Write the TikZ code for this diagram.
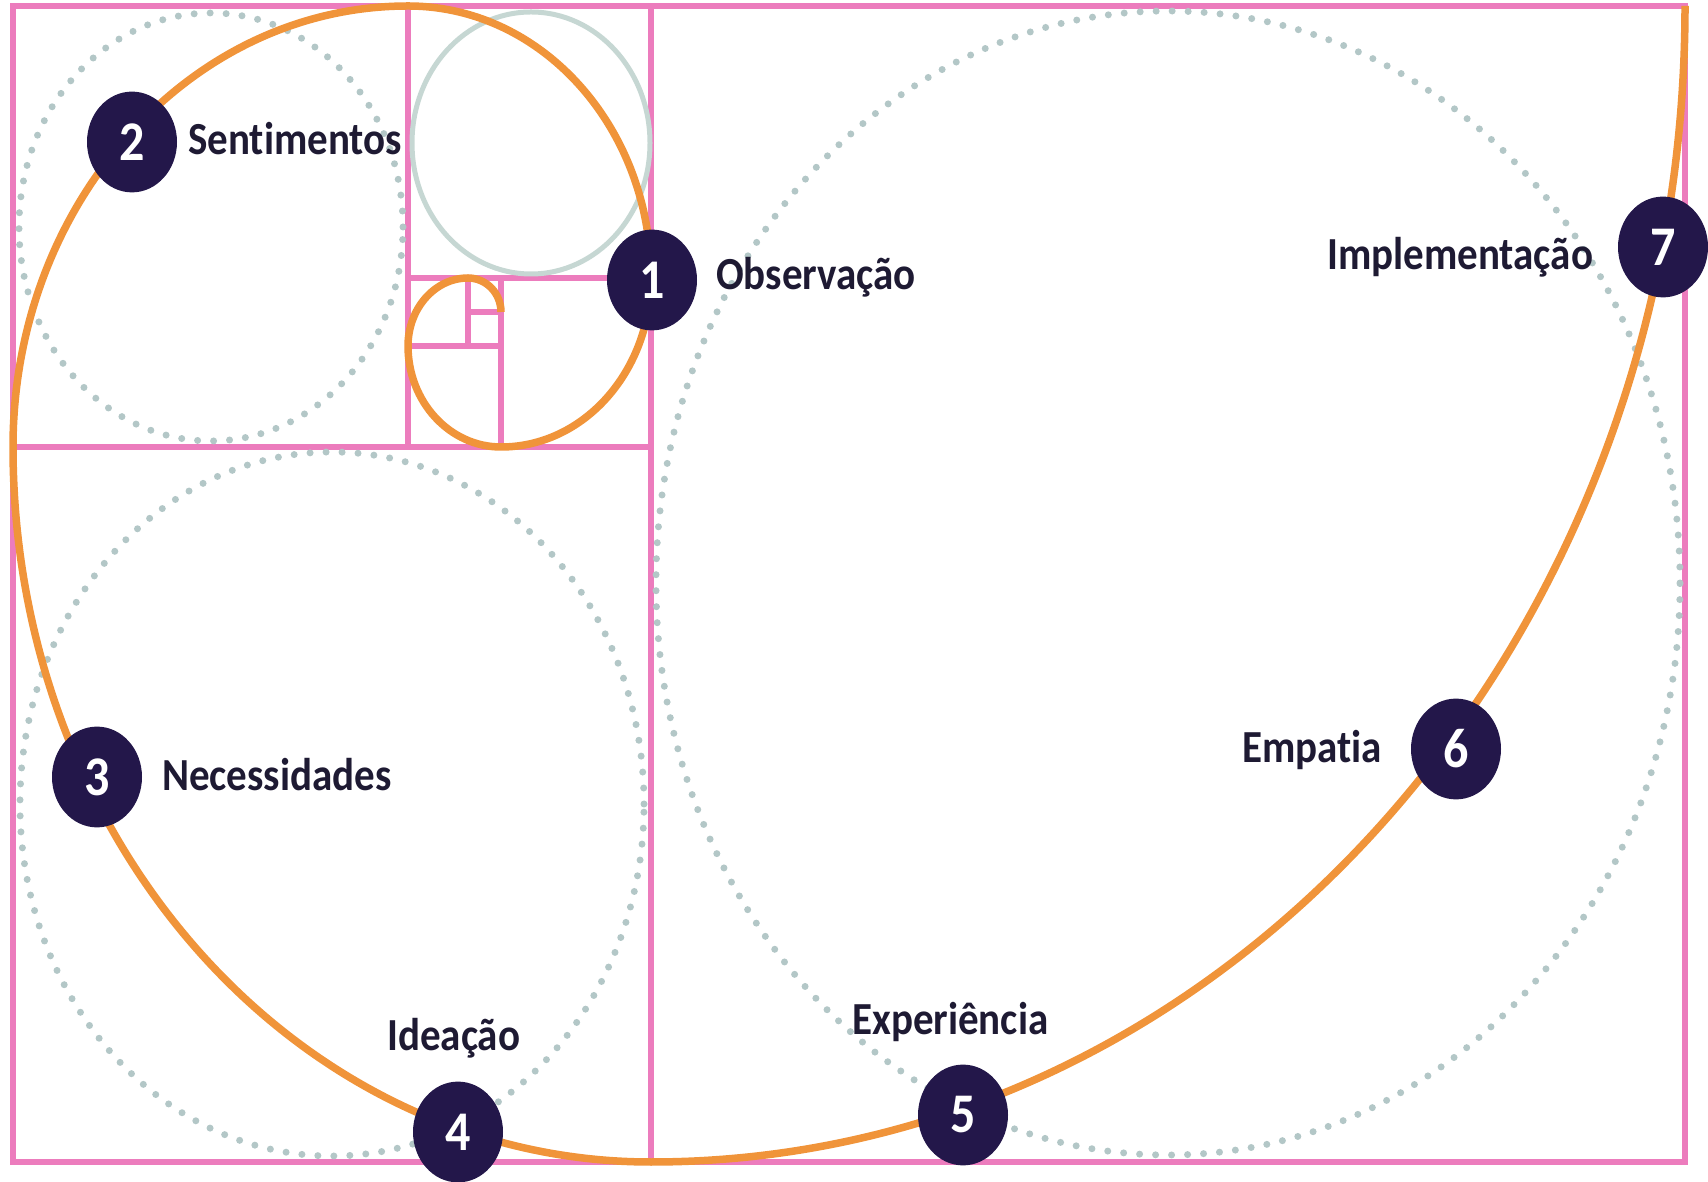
\documentclass[tikz,border=0pt]{standalone}
\usepackage{fontspec}
\setmainfont[RawFeature={-liga;-clig;-dlig;-calt;-hlig}]{Carlito}
\usepackage{tikz}
\usetikzlibrary{calc}
\definecolor{fibpink}{HTML}{EC7CBD}
\definecolor{fiborange}{HTML}{F0943A}
\definecolor{fibdots}{HTML}{B3C7C7}
\definecolor{fibring}{HTML}{C6D7D3}
\definecolor{stagenavy}{HTML}{23174A}
\definecolor{labelnavy}{HTML}{1E1A33}
\tikzset{stage/.style={circle,fill=stagenavy,text=white,minimum size=90,inner sep=0pt,yscale=1.12,font=\fontsize{50}{50}\selectfont\bfseries}}
\tikzset{stagetext/.style={anchor=base west,text=labelnavy,inner sep=0pt,yscale=1.12,font=\fontsize{41}{41}\selectfont\bfseries}}

\begin{document}
\begin{tikzpicture}
[x=1pt, y=1pt, grid/.style={draw=fibpink,line width=5.5pt},
 dots/.style={draw=fibdots,line width=7pt,line cap=round,dash pattern=on 0pt off 16pt},
 spiral/.style={draw=fiborange,line width=7.5pt}]
\useasboundingbox (0,0) rectangle (1708,1181);

% golden rectangles
\draw[grid] (13,19) rectangle (1685,1175);
\draw[grid] (651,19) -- (651,1175);
\draw[grid] (13,734) -- (651,734);
\draw[grid] (408,734) -- (408,1175);
\draw[grid] (408,903) -- (651,903);
\draw[grid] (501,734) -- (501,903);
\draw[grid] (408,835) -- (501,835);
\draw[grid] (468,835) -- (468,903);
\draw[grid] (468,869) -- (501,869);

% circles in the squares
\draw[dots] (211,954) ellipse [x radius=192, y radius=214];
\draw[dots] (332,377) ellipse [x radius=312, y radius=352];
\draw[dots] (1168,598) ellipse [x radius=512, y radius=572];
\draw[draw=fibring,line width=5pt] (531,1038) ellipse [x radius=119, y radius=131];

% spiral
\draw[spiral] (1685,1175)
  arc[start angle=0, end angle=-90, x radius=1034, y radius=1156]
  arc[start angle=-90, end angle=-180, x radius=638, y radius=715]
  arc[start angle=180, end angle=90, x radius=395, y radius=441]
  arc[start angle=90, end angle=0, x radius=243, y radius=272]
  arc[start angle=0, end angle=-90, x radius=150, y radius=169]
  arc[start angle=-90, end angle=-180, x radius=93, y radius=101]
  arc[start angle=180, end angle=90, x radius=60, y radius=68]
  arc[start angle=90, end angle=0, x radius=33, y radius=34];

% stages
\node (1) at (652,901)[stage]{1};
\node (1text) at (716,891)[stagetext]{Observação};
\node (2) at (132,1039)[stage]{2};
\node (2text) at (188,1026)[stagetext]{Sent\kern0pt imentos};
\node (3) at (97,404)[stage]{3};
\node (3text) at (162,390)[stagetext]{Necessidades};
\node (4) at (458,49)[stage]{4};
\node (4text) at (387,130)[stagetext]{Ideação};
\node (5) at (963,66)[stage]{5};
\node (5text) at (852,146)[stagetext]{Experiência};
\node (6) at (1456,432)[stage]{6};
\node (6text) at (1242,418)[stagetext]{Empat\kern0pt ia};
\node (7) at (1663,934)[stage]{7};
\node (7text) at (1327,911)[stagetext]{Implementação};
\end{tikzpicture}
\end{document}
